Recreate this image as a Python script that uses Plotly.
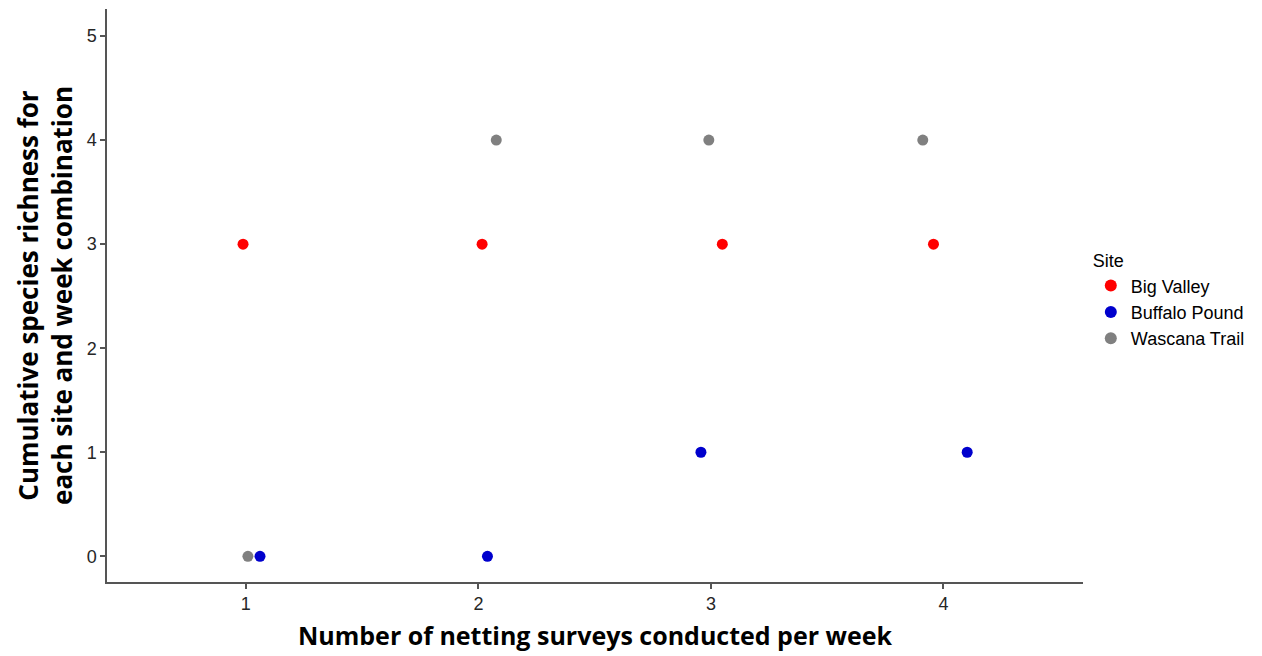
import plotly.graph_objects as go

# Jittered survey counts (x) and cumulative richness (y) per site
sites = ["Big Valley", "Buffalo Pound", "Wascana Trail"]
colors = ["#FF0000", "#0000CD", "#808080"]

big_valley_x = [0.988, 2.016, 3.049, 3.957]
big_valley_y = [3, 3, 3, 3]

buffalo_pound_x = [1.061, 2.039, 2.957, 4.102]
buffalo_pound_y = [0, 0, 1, 1]

wascana_trail_x = [1.009, 2.077, 2.991, 3.911]
wascana_trail_y = [0, 4, 4, 4]

x_ticks = [1, 2, 3, 4]
y_ticks = [0, 1, 2, 3, 4, 5]

series = [
    (big_valley_x, big_valley_y),
    (buffalo_pound_x, buffalo_pound_y),
    (wascana_trail_x, wascana_trail_y),
]

fig = go.Figure()
for name, color, (xs, ys) in zip(sites, colors, series):
    fig.add_trace(go.Scatter(
        x=xs, y=ys, mode="markers", name=name,
        marker=dict(color=color, size=11, line=dict(width=0)),
    ))

tick_font = dict(family="Liberation Sans, Arial", size=18, color="#262626")
legend_font = dict(family="Liberation Sans, Arial", size=18, color="#000000")

fig.update_layout(
    width=1262, height=656,
    margin=dict(l=107, r=179, t=9, b=74),
    paper_bgcolor="white", plot_bgcolor="white",
    showlegend=True,
    legend=dict(
        title=dict(text="Site", font=legend_font),
        font=legend_font,
        x=1.008, xanchor="left", y=0.59, yanchor="top",
        tracegroupgap=0, itemsizing="constant",
    ),
    xaxis=dict(
        range=[0.403, 4.6], tickvals=x_ticks, ticktext=[str(v) for v in x_ticks],
        showgrid=False, zeroline=False,
        showline=True, linecolor="#555555", linewidth=1.5,
        ticks="outside", ticklen=5, tickcolor="#555555", tickwidth=1.5,
        tickfont=tick_font,
        title=dict(text="<b>Number of netting surveys conducted per week</b>",
                   font=dict(family="Open Sans", size=25, color="#000000"), standoff=14),
    ),
    yaxis=dict(
        range=[-0.247, 5.26], tickvals=y_ticks, ticktext=[str(v) for v in y_ticks],
        showgrid=False, zeroline=False,
        showline=True, linecolor="#555555", linewidth=1.5,
        ticks="outside", ticklen=5, tickcolor="#555555", tickwidth=1.5,
        tickfont=tick_font,
        title=dict(text="<b>Cumulative species richness for<br>each site and week combination</b>",
                   font=dict(family="Open Sans", size=26, color="#000000"), standoff=7),
    ),
)

fig.write_html("out.html")
